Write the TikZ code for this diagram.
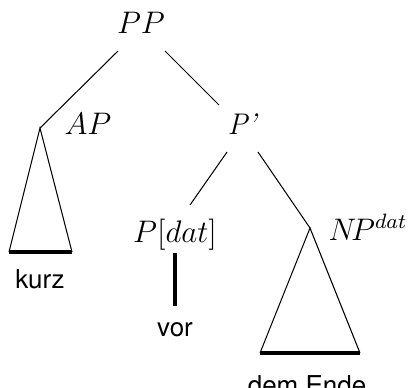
\documentclass[tikz,border=0pt]{standalone}
\usepackage{fontspec}
\setsansfont{TeX Gyre Heros}
\begin{document}
\begin{tikzpicture}[x=0.385pt, y=-0.385pt,
    cat/.style={anchor=base, inner sep=0pt, font=\fontsize{11.5}{14}\selectfont},
    leaf/.style={anchor=base, inner sep=0pt, font=\sffamily},
    bar/.style={line width=1.2pt}]
  \useasboundingbox (0,0) rectangle (409,387);

  % category labels
  \node[cat] (pp) at (141,33) {$PP$};
  \node[cat] (ap) at (88,134) {$AP$};
  \node[cat] (pbar) at (243,134) {\textit{P'}};
  \node[cat] (pdat) at (175,242) {$P[dat]$};
  \node[cat, anchor=base east] (np) at (408,240) {$N\!P^{dat}$};

  % words
  \node[leaf] (kurz) at (40,288) {kurz};
  \node[leaf] (vor) at (175,336) {vor};
  \node[leaf] (ende) at (307,394) {dem Ende};

  % branch ends
  \coordinate (pp-l) at (118,51);
  \coordinate (pp-r) at (165,51);
  \coordinate (pbar-t) at (219,105);
  \coordinate (pbar-l) at (227,152);
  \coordinate (pbar-r) at (258,152);
  \coordinate (pdat-t) at (190,205);
  \coordinate (pdat-b) at (175,253);
  \coordinate (vor-t) at (175,306);

  % triangle corners
  \coordinate (ap-top) at (40,128);
  \coordinate (ap-bl) at (9,252);
  \coordinate (ap-br) at (72,252);
  \coordinate (np-top) at (310,228);
  \coordinate (np-bl) at (260,353);
  \coordinate (np-br) at (360,353);

  % branches
  \draw (pp-l) -- (ap-top);
  \draw (pp-r) -- (pbar-t);
  \draw (pbar-l) -- (pdat-t);
  \draw (pbar-r) -- (np-top);
  \draw[bar] (pdat-b) -- (vor-t);

  % triangles
  \draw (ap-bl) -- (ap-top) -- (ap-br);
  \draw[bar] (ap-bl) -- (ap-br);
  \draw (np-bl) -- (np-top) -- (np-br);
  \draw[bar] (np-bl) -- (np-br);
\end{tikzpicture}
\end{document}
